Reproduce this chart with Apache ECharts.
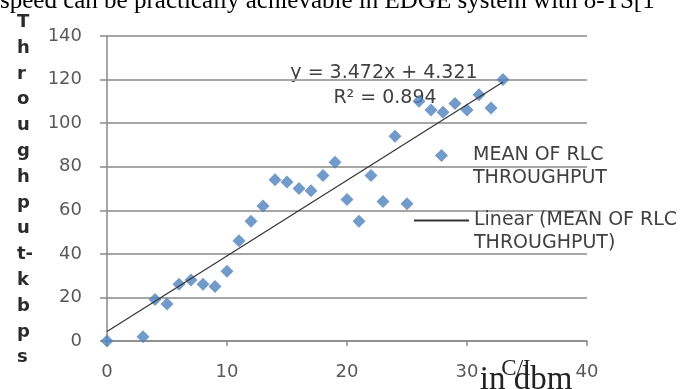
<!DOCTYPE html>
<html><head><meta charset="utf-8">
<script src="https://cdn.jsdelivr.net/npm/echarts@6/dist/echarts.min.js"></script>
<style>html,body{margin:0;padding:0;background:#fff}#c{width:694px;height:389px}</style>
</head><body><div id="c"></div>
<script>
// C/I (dBm) values and mean RLC throughput (kbps)
const ciValues = [0,3,4,5,6,7,8,9,10,11,12,13,14,15,16,17,18,19,20,21,22,23,24,25,26,27,28,29,30,31,32,33];
const throughputValues = [0,2,19,17,26,28,26,25,32,46,55,62,74,73,70,69,76,82,65,55,76,64,94,63,110,106,105,109,106,113,107,120];
// Linear trend shown on the chart: y = 3.472x + 4.321, drawn over x = 0..33
const trendSlope = 3.472;
const trendIntercept = 4.321;
const trendRangeX = [0, 33];
const yTicks = [0,20,40,60,80,100,120,140];
const xTicks = [0,10,20,30,40];
const seriesName = 'MEAN OF RLC\nTHROUGHPUT';
const trendName = 'Linear (MEAN OF RLC\nTHROUGHPUT)';

const scatterData = ciValues.map((x, i) => [x, throughputValues[i]]);
const trendData = trendRangeX.map(x => [x, trendSlope * x + trendIntercept]);
const yTitleText = ['T','h','r','o','u','g','h','p','u','t-','k','b','p','s'].join('\n');
const sans = 'DejaVu Sans';

const chart = echarts.init(document.getElementById('c'), null, {renderer: 'canvas'});
chart.setOption({
  animation: false,
  backgroundColor: '#ffffff',
  grid: {left: 107, right: 107, top: 36, bottom: 48},
  xAxis: {
    type: 'value', min: xTicks[0], max: xTicks[xTicks.length - 1], interval: 10,
    axisLine: {show: true, lineStyle: {color: '#8a8a8a', width: 1.5}},
    axisTick: {show: true, inside: false, length: 5, lineStyle: {color: '#8a8a8a', width: 1.5}},
    axisLabel: {margin: 22, color: '#595959', fontFamily: sans, fontSize: 18},
    splitLine: {show: false}
  },
  yAxis: {
    type: 'value', min: yTicks[0], max: yTicks[yTicks.length - 1], interval: 20,
    axisLine: {show: true, lineStyle: {color: '#8a8a8a', width: 1.5}},
    axisTick: {show: true, inside: false, length: 7, lineStyle: {color: '#8a8a8a', width: 1.5}},
    axisLabel: {margin: 25, color: '#595959', fontFamily: sans, fontSize: 18},
    splitLine: {show: true, lineStyle: {color: '#a6a6a6', width: 2}}
  },
  legend: [
    {
      orient: 'vertical', left: 435, top: 121, padding: 0,
      itemWidth: 13, itemHeight: 13, selectedMode: false,
      formatter: n => ' \n' + n,
      textStyle: {color: '#404040', fontFamily: sans, fontSize: 19, lineHeight: 23, padding: [0, 0, 0, 20]},
      data: [{name: seriesName, icon: 'diamond'}]
    },
    {
      orient: 'vertical', left: 413, top: 186, padding: 0,
      itemWidth: 55, itemHeight: 12, selectedMode: false,
      formatter: n => ' \n' + n,
      textStyle: {color: '#404040', fontFamily: sans, fontSize: 19, lineHeight: 23},
      data: [{name: trendName, itemStyle: {opacity: 0, color: 'rgba(0,0,0,0)', borderWidth: 0}}]
    }
  ],
  series: [
    {name: seriesName, type: 'scatter', symbol: 'diamond', symbolSize: 13, itemStyle: {color: '#4f81bd'}, data: scatterData},
    {name: trendName, type: 'line', symbol: 'none', showSymbol: false, itemStyle: {color: '#333333'},
      lineStyle: {color: '#333333', width: 1.2}, data: trendData}
  ],
  graphic: [
    {type: 'text', x: 0, y: 14, style: {text: 'speed can be practically achievable in EDGE system with 8-TS[1', fontFamily: 'Liberation Serif', fontSize: 25, fill: '#000', verticalAlign: 'bottom'}},
    {type: 'text', x: 17, y: 190, style: {text: yTitleText, fontFamily: sans, fontWeight: 'bold', fontSize: 18, lineHeight: 25.8, fill: '#2b2b2b', align: 'left', verticalAlign: 'middle'}},
    {type: 'text', x: 384, y: 73, style: {text: 'y = 3.472x + 4.321', fontFamily: sans, fontSize: 19, fill: '#404040', align: 'center', verticalAlign: 'middle'}},
    {type: 'text', x: 385, y: 98, style: {text: 'R² = 0.894', fontFamily: sans, fontSize: 19, fill: '#404040', align: 'center', verticalAlign: 'middle'}},
    {type: 'text', x: 516, y: 380, style: {text: 'C/I', fontFamily: 'Liberation Serif', fontSize: 23, fill: '#222', align: 'center', verticalAlign: 'bottom'}},
    {type: 'text', x: 526, y: 397, style: {text: 'in dbm', fontFamily: 'Liberation Serif', fontSize: 33, fill: '#222', align: 'center', verticalAlign: 'bottom'}}
  ]
});
</script></body></html>
